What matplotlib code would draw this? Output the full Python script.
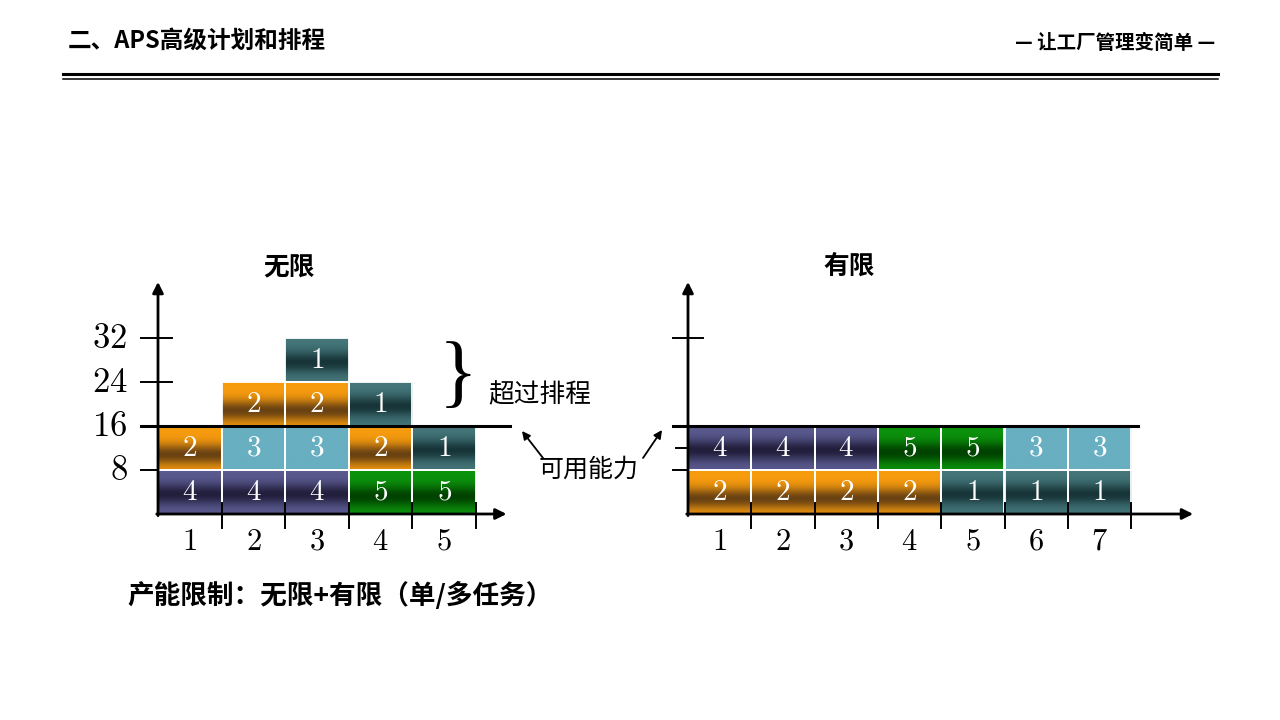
import numpy as np
import matplotlib
matplotlib.use('Agg')
import matplotlib.pyplot as plt
from matplotlib.patches import Rectangle, FancyArrowPatch
from matplotlib.lines import Line2D

plt.rcParams['font.family'] = ['Noto Sans CJK SC', 'DejaVu Sans']
plt.rcParams['mathtext.fontset'] = 'cm'

# ---------------- data ----------------
title_text = "二、APS高级计划和排程"
slogan_text = "— 让工厂管理变简单 —"
caption_text = "产能限制：无限+有限（单/多任务）"

inf_title = "无限"
inf_columns = ["1", "2", "3", "4", "5"]
inf_stacks = [[4, 2], [4, 3, 2], [4, 3, 2, 1], [5, 2, 1], [5, 1]]
inf_yticks = [8, 16, 24, 32]
inf_ytick_labels = ["8", "16", "24", "32"]

fin_title = "有限"
fin_columns = ["1", "2", "3", "4", "5", "6", "7"]
fin_bottom = [2, 2, 2, 2, 1, 1, 1]
fin_top = [4, 4, 4, 5, 5, 3, 3]
fin_yticks = [8, 12, 32]

capacity = 16
block_h = 8
over_label = "超过排程"
cap_label = "可用能力"

# job colours: (edge colour, middle colour, centre of dark band)
job_colors = {
    1: ("#44767a", "#173538", 0.45),
    2: ("#f89c0e", "#6a4212", 0.35),
    3: ("#68afc1", "#68afc1", 0.5),
    4: ("#5a5a90", "#221f3c", 0.45),
    5: ("#0c930c", "#004200", 0.40),
}

W, H = 1280, 720
fig = plt.figure(figsize=(12.8, 7.2), dpi=100)
fig.patch.set_facecolor("white")


def hex2rgb(h):
    h = h.lstrip("#")
    return np.array([int(h[i:i + 2], 16) / 255 for i in (0, 2, 4)])


def grad_img(job):
    e, m, c = job_colors[job]
    e, m = hex2rgb(e), hex2rgb(m)
    t = np.linspace(0, 1, 80)
    w = np.exp(-((t - c) / 0.24) ** 2)
    img = e[None, :] * (1 - w[:, None]) + m[None, :] * w[:, None]
    return img[:, None, :]


def make_axes(box, origin, sx, sy):
    x0, y0, x1, y1 = box
    ax = fig.add_axes([x0 / W, 1 - y1 / H, (x1 - x0) / W, (y1 - y0) / H])
    lims = ((x0 - origin[0]) / sx, (x1 - origin[0]) / sx,
            (origin[1] - y1) / sy, (origin[1] - y0) / sy)
    ax.axis("off")
    return ax, lims


def draw_block(ax, x, y, job):
    ax.imshow(grad_img(job), extent=(x, x + 1, y, y + block_h), origin="lower",
              aspect="auto", interpolation="bilinear", zorder=2)
    ax.add_patch(Rectangle((x, y), 1, block_h, fill=False, edgecolor="white",
                           lw=1.3, zorder=3))
    ax.text(x + 0.5, y + block_h / 2, f"${job}$", color="white", fontsize=21,
            ha="center", va="center", zorder=4)


def draw_axes_arrows(ax, xmax, ymax):
    ap = dict(arrowstyle="-|>", lw=2.0, color="black", mutation_scale=16,
              shrinkA=0, shrinkB=0)
    ax.annotate("", xy=(0, ymax), xytext=(0, -0.3), arrowprops=ap, zorder=5)
    ax.annotate("", xy=(xmax, 0), xytext=(-0.02, 0), arrowprops=ap, zorder=5)


# ---------------- left chart (无限) ----------------
sx, sy = 63.6, 5.5
axL, limL = make_axes((60, 250, 545, 565), (158, 514), sx, sy)
for i, stack in enumerate(inf_stacks):
    for j, job in enumerate(stack):
        draw_block(axL, i, j * block_h, job)
for i, lab in enumerate(inf_columns):
    axL.text(i + 0.5, -5.0, f"${lab}$", fontsize=22, ha="center", va="center")
for b in range(1, len(inf_columns) + 1):
    axL.plot([b, b], [2.0, -2.6], color="black", lw=1.4, zorder=5)
for v, lab in zip(inf_yticks, inf_ytick_labels):
    if v == capacity:
        continue
    right = 0.22 if v > capacity else 0.0
    axL.plot([-0.27, right], [v, v], color="black", lw=1.4, zorder=5)
for v, lab in zip(inf_yticks, inf_ytick_labels):
    axL.text(-0.48, v, f"${lab}$", fontsize=25, ha="right", va="center")
axL.plot([-0.27, 5.53], [capacity, capacity], color="black", lw=2.2, zorder=5)
draw_axes_arrows(axL, 5.48, 42.2)
axL.set_xlim(limL[0], limL[1])
axL.set_ylim(limL[2], limL[3])

# ---------------- right chart (有限) ----------------
sx2 = 63.3
axR, limR = make_axes((630, 250, 1235, 565), (688, 514), sx2, sy)
for i, (b, t) in enumerate(zip(fin_bottom, fin_top)):
    draw_block(axR, i, 0, b)
    draw_block(axR, i, block_h, t)
for i, lab in enumerate(fin_columns):
    axR.text(i + 0.5, -5.0, f"${lab}$", fontsize=22, ha="center", va="center")
for b in range(1, len(fin_columns) + 1):
    axR.plot([b, b], [2.0, -2.6], color="black", lw=1.4, zorder=5)
for v in fin_yticks:
    if v > capacity:
        axR.plot([-0.24, 0.24], [v, v], color="black", lw=1.4, zorder=5)
    else:
        left = -0.19 if v % 8 else -0.24
        axR.plot([left, 0], [v, v], color="black", lw=1.4, zorder=5)
axR.plot([-0.24, 7.11], [capacity, capacity], color="black", lw=2.2, zorder=5)
draw_axes_arrows(axR, 7.98, 42.2)
axR.set_xlim(limR[0], limR[1])
axR.set_ylim(limR[2], limR[3])

# ---------------- slide texts ----------------
def fx(px):
    return px / W


def fy(py):
    return 1 - py / H


fig.text(fx(68), fy(41), title_text, fontsize=17, fontweight="bold",
         ha="left", va="center", family=["Noto Sans CJK SC", "DejaVu Sans"])
fig.text(fx(1215), fy(43), slogan_text, fontsize=14, fontweight="bold",
         fontstyle="italic", ha="right", va="center",
         family=["Noto Sans CJK SC", "DejaVu Sans"])
fig.add_artist(Line2D([fx(63), fx(1218)], [fy(74), fy(74)], color="black", lw=2.2,
                      transform=fig.transFigure))
fig.add_artist(Line2D([fx(63), fx(1218)], [fy(78.5), fy(78.5)], color="black", lw=1.1,
                      transform=fig.transFigure))

fig.text(fx(289), fy(268), inf_title, fontsize=18.5, fontweight="bold",
         ha="center", va="center")
fig.text(fx(849), fy(266), fin_title, fontsize=18.5, fontweight="bold",
         ha="center", va="center")

fig.text(fx(458), fy(378), "}", fontsize=58, family="Liberation Serif",
         ha="center", va="center")
fig.text(fx(540), fy(395), over_label, fontsize=18.5, ha="center", va="center")
fig.text(fx(589), fy(470), cap_label, fontsize=18, ha="center", va="center")

ap2 = dict(arrowstyle="-|>", lw=1.3, color="black", mutation_scale=12,
           shrinkA=0, shrinkB=0)
fig.add_artist(FancyArrowPatch(
    (fx(543), fy(458)), (fx(522), fy(431)), transform=fig.transFigure, **ap2))
fig.add_artist(FancyArrowPatch(
    (fx(643), fy(458)), (fx(662), fy(430)), transform=fig.transFigure, **ap2))

fig.text(fx(127), fy(596), caption_text, fontsize=19.2, fontweight="bold",
         ha="left", va="center")

fig.savefig("out.png", dpi=100, facecolor="white")
